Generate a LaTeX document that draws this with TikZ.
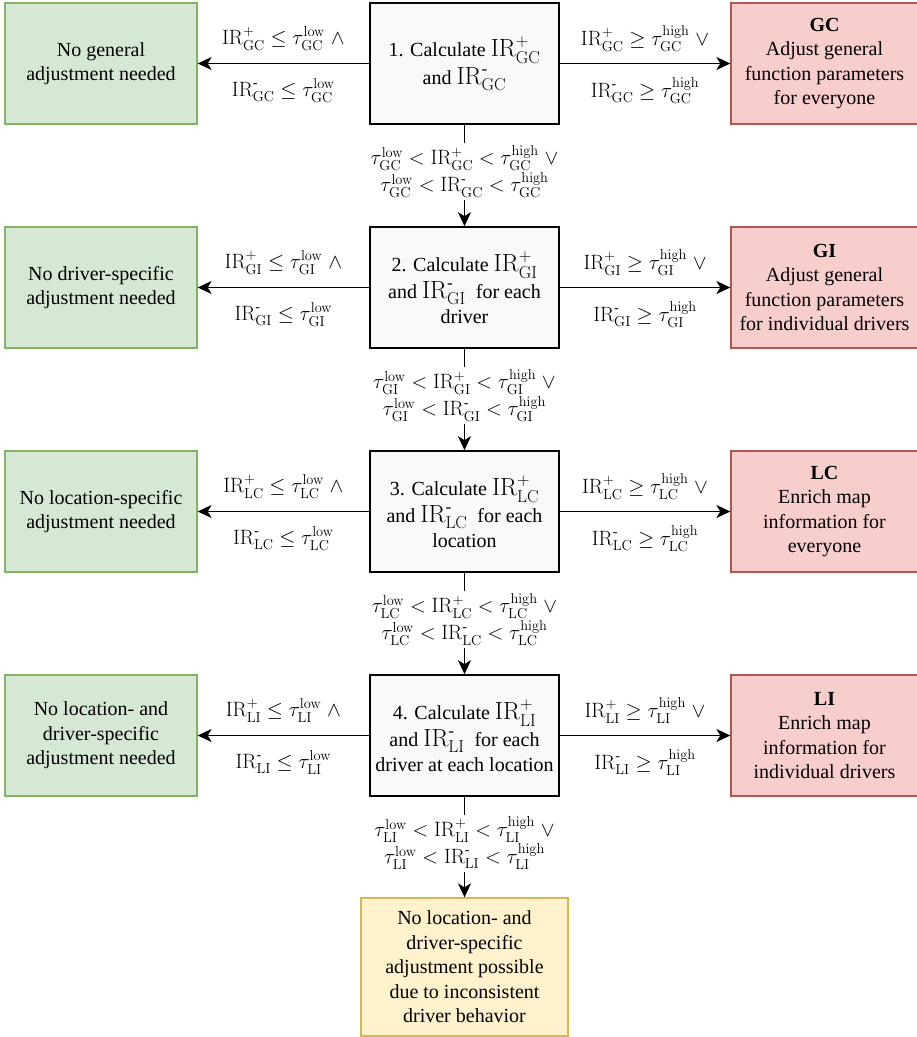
\documentclass[tikz,border=0pt]{standalone}
\usepackage{amsmath}
\usepackage[no-math]{fontspec}
\setmainfont{Liberation Serif}
\usetikzlibrary{arrows.meta}
\definecolor{gfill}{HTML}{D5E8D4}\definecolor{gdraw}{HTML}{82B366}
\definecolor{rfill}{HTML}{F8CECC}\definecolor{rdraw}{HTML}{B85450}
\definecolor{yfill}{HTML}{FFF2CC}\definecolor{ydraw}{HTML}{D6B656}
\definecolor{cfill}{HTML}{F9F9F9}
\newcommand{\IRp}[1]{\mathrm{IR}^{+}_{\mathrm{#1}}}
\newcommand{\IRm}[1]{\mathrm{IR}^{\text{-}}_{\mathrm{#1}}}
\newcommand{\tlow}[1]{\tau^{\mathrm{low}}_{\mathrm{#1}}}
\newcommand{\thigh}[1]{\tau^{\mathrm{high}}_{\mathrm{#1}}}
\newcommand{\boxfont}{\fontsize{20}{24.5}\selectfont}
\newcommand{\labfont}{\fontsize{20}{27}\selectfont}
\newcommand{\bigmath}[1]{{\fontsize{24.5}{24.5}\selectfont$#1$}}
\tikzset{
  calcbox/.style={draw=black, line width=1.6pt, fill=cfill, minimum width=189pt, minimum height=121pt, inner sep=1pt, align=center, font=\boxfont},
  okbox/.style={draw=gdraw, line width=1.3pt, fill=gfill, minimum width=192pt, minimum height=121pt, inner sep=1pt, align=center, font=\boxfont},
  adjbox/.style={draw=rdraw, line width=1.3pt, fill=rfill, minimum width=187pt, minimum height=121pt, inner sep=1pt, align=center, font=\boxfont},
  failbox/.style={draw=ydraw, line width=1.3pt, fill=yfill, minimum width=207pt, minimum height=138pt, inner sep=1pt, align=center, font=\boxfont},
  arr/.style={line width=1.6pt, -{Stealth[length=14pt,width=13pt,inset=4pt]}},
  lab/.style={font=\labfont, inner sep=1pt},
  vlab/.style={fill=white, align=center, font=\labfont, inner sep=2pt, yshift=4pt}
}
\begin{document}
\begin{tikzpicture}[x=1pt,y=-1pt]
\useasboundingbox (0,0) rectangle (917,1037);
% row 1
\node[calcbox] (c1) at (464.5,63.5) {1. Calculate \bigmath{\IRp{GC}}\\[3.5pt]and \bigmath{\IRm{GC}}};
\node[okbox] (g1) at (101,63.5) {No general\\adjustment needed};
\node[adjbox] (r1) at (824.5,63.5) {\textbf{GC}\\Adjust general\\function parameters\\for everyone};
% row 2
\node[calcbox] (c2) at (464.5,287.5) {2. Calculate \bigmath{\IRp{GI}}\\[2.5pt]and \bigmath{\IRm{GI}}\ \ for each\\driver};
\node[okbox] (g2) at (101,287.5) {No driver-specific\\adjustment needed};
\node[adjbox] (r2) at (824.5,287.5) {\textbf{GI}\\Adjust general\\function parameters\\for individual drivers};
% row 3
\node[calcbox] (c3) at (464.5,511.5) {3. Calculate \bigmath{\IRp{LC}}\\[2.5pt]and \bigmath{\IRm{LC}}\ \ for each\\location};
\node[okbox] (g3) at (101,511.5) {No location-specific\\adjustment needed};
\node[adjbox] (r3) at (824.5,511.5) {\textbf{LC}\\Enrich map\\information for\\everyone};
% row 4
\node[calcbox] (c4) at (464.5,735.5) {4. Calculate \bigmath{\IRp{LI}}\\[2.5pt]and \bigmath{\IRm{LI}}\ \ for each\\driver at each location};
\node[okbox] (g4) at (101,735.5) {No location- and\\driver-specific\\adjustment needed};
\node[adjbox] (r4) at (824.5,735.5) {\textbf{LI}\\Enrich map\\information for\\individual drivers};
% final
\node[failbox] (y) at (464.5,967) {No location- and\\driver-specific\\adjustment possible\\due to inconsistent\\driver behavior};
% horizontal arrows and labels
\foreach \i/\k in {1/GC,2/GI,3/LC,4/LI}{
  \draw[arr] (c\i.west) -- (g\i.east);
  \draw[arr] (c\i.east) -- (r\i.west);
  \path (c\i.west) -- (g\i.east)
    node[lab, midway, yshift=25pt] (la\i) {$\IRp{\k} \leq \tlow{\k} \;\wedge$}
    node[lab, midway, yshift=-27pt] (lb\i) {$\IRm{\k} \leq \tlow{\k}$};
  \path (c\i.east) -- (r\i.west)
    node[lab, midway, yshift=25pt] (ra\i) {$\IRp{\k} \geq \thigh{\k} \;\vee$}
    node[lab, midway, yshift=-27pt] (rb\i) {$\IRm{\k} \geq \thigh{\k}$};
}
% vertical arrows
\draw[arr] (c1.south) -- node[vlab] (v1) {$\tlow{GC} < \IRp{GC} < \thigh{GC} \;\vee$\\$\tlow{GC} < \IRm{GC} < \thigh{GC}$} (c2.north);
\draw[arr] (c2.south) -- node[vlab] (v2) {$\tlow{GI} < \IRp{GI} < \thigh{GI} \;\vee$\\$\tlow{GI} < \IRm{GI} < \thigh{GI}$} (c3.north);
\draw[arr] (c3.south) -- node[vlab] (v3) {$\tlow{LC} < \IRp{LC} < \thigh{LC} \;\vee$\\$\tlow{LC} < \IRm{LC} < \thigh{LC}$} (c4.north);
\draw[arr] (c4.south) -- node[vlab] (v4) {$\tlow{LI} < \IRp{LI} < \thigh{LI} \;\vee$\\$\tlow{LI} < \IRm{LI} < \thigh{LI}$} (y.north);
\end{tikzpicture}
\end{document}
